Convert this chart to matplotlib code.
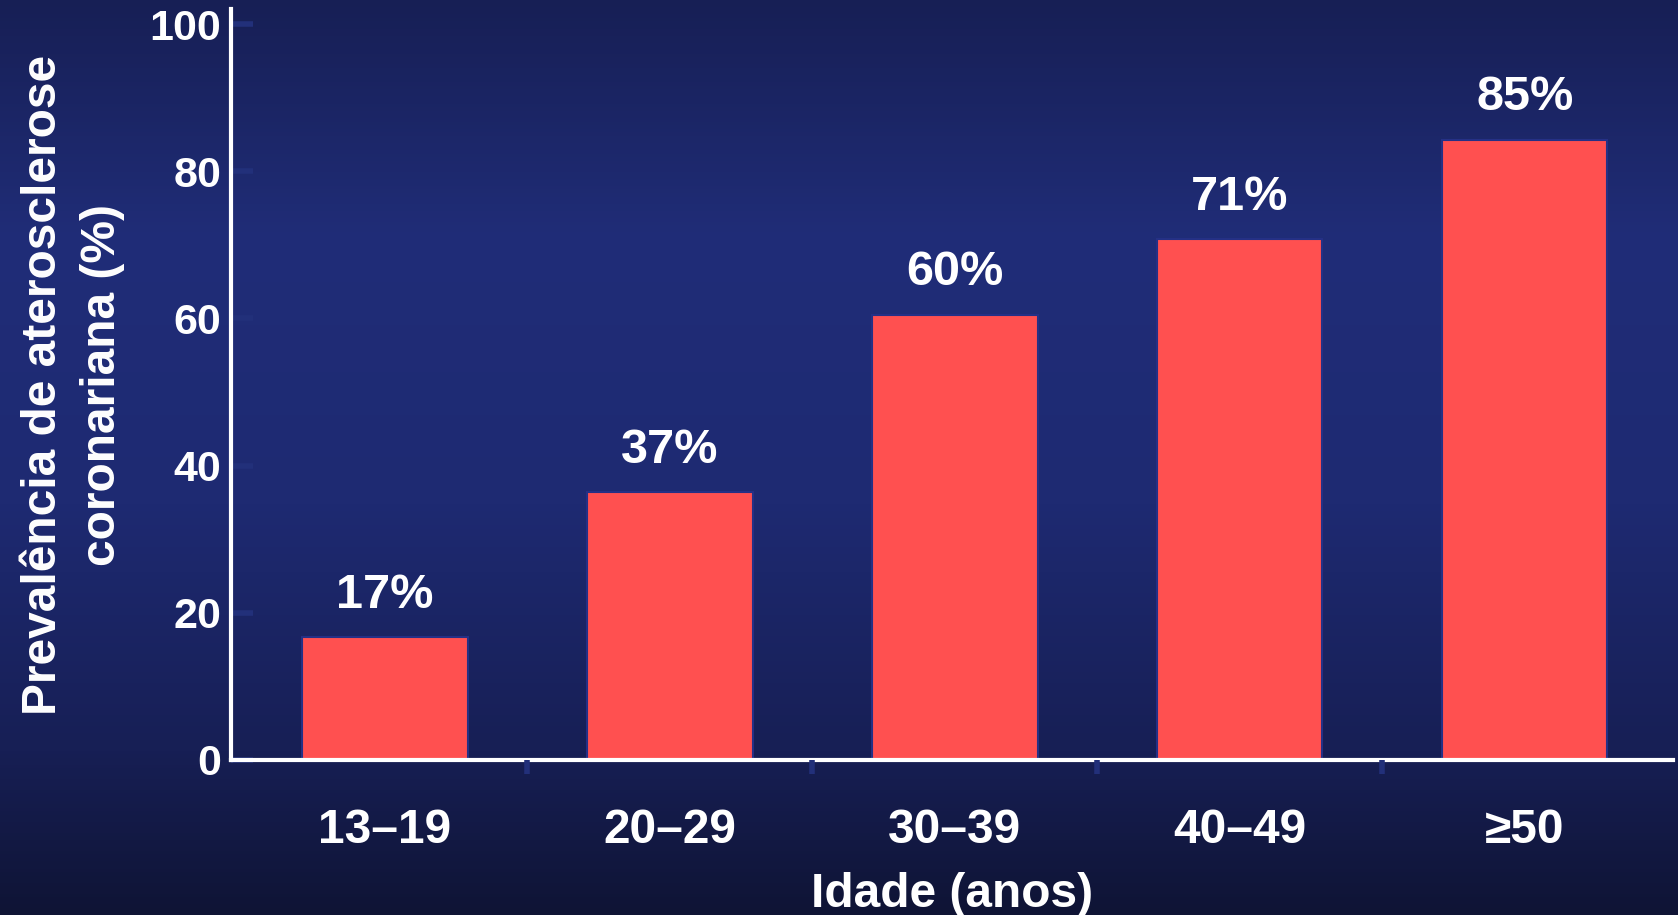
import matplotlib
matplotlib.use("Agg")
import matplotlib.pyplot as plt
import numpy as np
from matplotlib.colors import LinearSegmentedColormap

# data
age_groups = ["13\u201319", "20\u201329", "30\u201339", "40\u201349", "\u226550"]
prevalence = [16.7, 36.4, 60.5, 70.8, 84.3]
bar_labels = ["17%", "37%", "60%", "71%", "85%"]
y_ticks = [0, 20, 40, 60, 80, 100]

plt.rcParams["font.family"] = ["Liberation Sans", "DejaVu Sans"]
plt.rcParams["font.weight"] = "bold"

fig = plt.figure(figsize=(16.78, 9.15), dpi=100)

# background gradient (dark top, brighter upper-middle, dark bottom)
bg = fig.add_axes([0, 0, 1, 1], zorder=-10)
bg_cmap = LinearSegmentedColormap.from_list(
    "bg", [(0.0, "#171f55"), (0.26, "#202d78"), (0.55, "#1e2a72"),
           (0.82, "#171f55"), (1.0, "#0f1435")])
bg.imshow(np.linspace(0, 1, 256).reshape(-1, 1), aspect="auto", cmap=bg_cmap,
          extent=[0, 1, 0, 1])
bg.axis("off")

ax = fig.add_axes([0.1377, 0.1694, 0.8593, 0.8204])
ax.patch.set_alpha(0)

x = np.arange(len(age_groups))
bars = ax.bar(x, prevalence, width=0.58, color="#ff5050",
              edgecolor="#253085", linewidth=1.5, zorder=2)

for rect, lbl in zip(bars, bar_labels):
    ax.annotate(lbl, (rect.get_x() + rect.get_width() / 2, rect.get_height()),
                xytext=(0, 14), textcoords="offset points",
                ha="center", va="bottom", color="white",
                fontsize=35, fontweight="bold")

ax.set_xlim(-0.54, 4.52)
ax.set_ylim(0, 102)

for side in ["top", "right"]:
    ax.spines[side].set_visible(False)
for side in ["left", "bottom"]:
    ax.spines[side].set_color("white")
    ax.spines[side].set_linewidth(3)
    ax.spines[side].set_zorder(3)

ax.set_yticks(y_ticks)
ax.set_yticklabels([str(v) for v in y_ticks])
ax.tick_params(axis="y", direction="in", length=16, width=4,
               color="#22307a", labelcolor="white", labelsize=31, pad=7)

# category labels between boundary ticks
ax.set_xticks(x[:-1] + 0.5)
ax.set_xticklabels([])
ax.tick_params(axis="x", direction="out", length=10, width=4,
               color="#22307a")
for xi, lbl in zip(x, age_groups):
    ax.annotate(lbl, (xi, 0), xytext=(0, -51), textcoords="offset points",
                ha="center", va="center", color="white",
                fontsize=34.5, fontweight="bold", annotation_clip=False)
ax.xaxis.set_zorder(4)
ax.yaxis.set_zorder(2.4)

ax.set_xlabel("Idade (anos)", color="white", fontsize=34.5,
              fontweight="bold", labelpad=67)
ax.set_ylabel("Preval\u00eancia de aterosclerose\ncoronariana (%)",
              color="white", fontsize=34.5, fontweight="bold", labelpad=18,
              linespacing=1.38)

fig.savefig("out.png", dpi=100)
